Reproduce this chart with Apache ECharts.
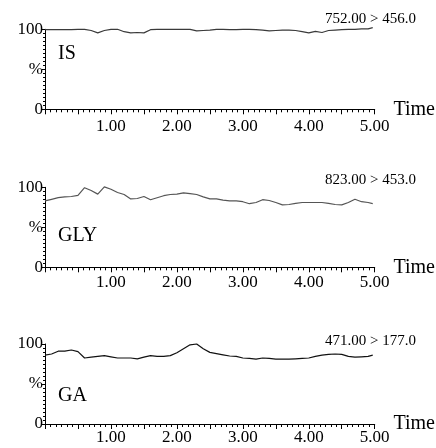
<!DOCTYPE html>
<html>
<head>
<meta charset="utf-8">
<script src="https://cdn.jsdelivr.net/npm/echarts@6/dist/echarts.min.js"></script>
<style>
  html, body { margin: 0; padding: 0; background: #fff; }
  #chart { width: 436px; height: 448px; }
</style>
</head>
<body>
<div id="chart"></div>
<script>
// time points (same for all three panels)
const times = [0.0, 0.1, 0.2, 0.3, 0.4, 0.5, 0.6, 0.7, 0.8, 0.9,
               1.0, 1.1, 1.2, 1.3, 1.4, 1.5, 1.6, 1.7, 1.8, 1.9,
               2.0, 2.1, 2.2, 2.3, 2.4, 2.5, 2.6, 2.7, 2.8, 2.9,
               3.0, 3.1, 3.2, 3.3, 3.4, 3.5, 3.6, 3.7, 3.8, 3.9,
               4.0, 4.1, 4.2, 4.3, 4.4, 4.5, 4.6, 4.7, 4.8, 4.9, 4.97];

// % values
const isValues = [99.5, 99.5, 99.5, 99.5, 99.5, 100, 100, 98.5, 95.5, 98.5,
                  100, 100, 97, 95.5, 96, 95.5, 99.5, 100, 100, 100,
                  100, 100, 100, 98, 98.5, 99, 100, 100, 99.5, 99.5,
                  100, 100, 99.5, 99, 98, 98.5, 99, 99, 98.5, 97,
                  95.5, 97.5, 96, 98.5, 99, 99.5, 100, 100, 100.5, 100.5, 102];

const glyValues = [83, 85, 87, 88, 88.5, 90, 99.5, 96, 91.5, 100.5,
                   97.5, 93.5, 91, 85.5, 86, 88.5, 84.5, 87, 89.5, 91,
                   91.5, 93, 92, 91, 88, 85.5, 85.5, 84, 83, 83,
                   82, 79.5, 81, 84.5, 83.5, 81, 78, 78.5, 80, 81,
                   81, 81, 81, 80, 78.5, 78, 81, 85, 82, 81, 79.5];

const gaValues = [86, 87.5, 91, 91, 92.5, 90.5, 82.5, 83.5, 84.5, 85.5,
                  84, 82.5, 82.5, 82.5, 81.5, 83.5, 85.5, 84.5, 84.5, 85.5,
                  89, 94, 99, 100, 94, 89.5, 88, 86.5, 85, 84.5,
                  82.5, 82, 81, 82.5, 82, 81, 81, 81, 81.5, 82,
                  82.5, 84.5, 86, 87, 87.5, 87, 84.5, 83.5, 84, 84.5, 86];

const panelNames = ['IS', 'GLY', 'GA'];
const panelNotes = ['752.00 > 456.0', '823.00 > 453.0', '471.00 > 177.0'];
const panelData = [isValues, glyValues, gaValues];
const lineColors = ['#3a3a3a', '#555', '#111'];

const FONT = '"Liberation Serif", "Times New Roman", serif';
const gridTops = [29.3, 187.3, 344];
const labelMargins = [8.5, 6.5, 5.5];
const namePads = [10, 7, 5.5];
const nameY = [53.5, 235.7, 395.7];
const noteY = [19, 180, 341];

const chart = echarts.init(document.getElementById('chart'));

const grids = [], xAxes = [], yAxes = [], series = [], texts = [];
gridTops.forEach(function (top, i) {
    grids.push({ left: 45, right: 49, top: top, height: 80 });
    xAxes.push({
        type: 'value', gridIndex: i, min: 0, max: 5, interval: 0.5,
        name: 'Time', nameLocation: 'end', nameGap: 5,
        nameTextStyle: { fontFamily: FONT, fontSize: 20, color: '#000', align: 'left',
                         verticalAlign: 'middle', padding: [0, 0, namePads[i], 0] },
        axisLine: { lineStyle: { color: '#000', width: 1 } },
        axisTick: { length: 5, lineStyle: { color: '#000' } },
        minorTick: { show: true, splitNumber: 6, length: 3, lineStyle: { color: '#000' } },
        splitLine: { show: false },
        axisLabel: {
            margin: labelMargins[i], fontFamily: FONT, fontSize: 17, color: '#000',
            formatter: function (v) { return (v > 0 && Number.isInteger(v)) ? v.toFixed(2) : ''; }
        }
    });
    yAxes.push({
        type: 'value', gridIndex: i, min: 0, max: 100, interval: 50,
        axisLine: { show: true, lineStyle: { color: '#000', width: 1 } },
        axisTick: { show: true, length: 3, lineStyle: { color: '#000' } },
        minorTick: { show: true, splitNumber: 10, length: 2, lineStyle: { color: '#000' } },
        splitLine: { show: false },
        axisLabel: {
            margin: 2, fontFamily: FONT, fontSize: 17, color: '#000',
            formatter: function (v) { return v === 50 ? '%' : String(v); }
        }
    });
    series.push({
        type: 'line', xAxisIndex: i, yAxisIndex: i, showSymbol: false, symbol: 'none',
        clip: false, animation: false,
        lineStyle: { color: lineColors[i], width: 1.2 },
        data: times.map(function (t, k) { return [t, panelData[i][k]]; })
    });
    texts.push({
        type: 'text', x: 58, y: nameY[i],
        style: { text: panelNames[i], font: '20px ' + FONT, fill: '#000', verticalAlign: 'middle' }
    });
    texts.push({
        type: 'text', x: 325, y: noteY[i],
        style: { text: panelNotes[i], font: '15px ' + FONT, fill: '#000', verticalAlign: 'middle' }
    });
});

chart.setOption({
    animation: false,
    grid: grids,
    xAxis: xAxes,
    yAxis: yAxes,
    series: series,
    graphic: texts
});
</script>
</body>
</html>
